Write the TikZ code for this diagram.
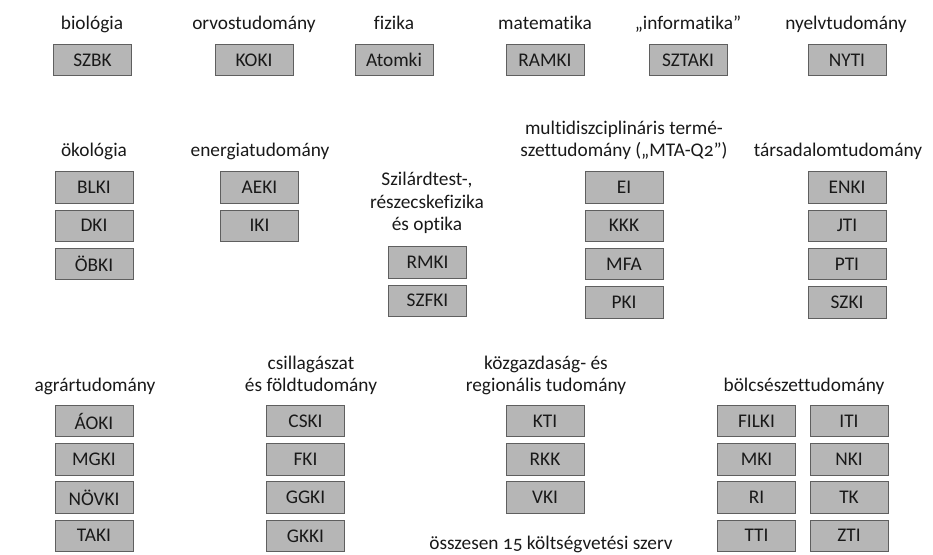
\documentclass[tikz,border=0pt]{standalone}
\usepackage{fontspec}
\setmainfont{Carlito}[Numbers=OldStyle, Ligatures=CommonOff]
\usetikzlibrary{positioning}
\definecolor{boxgray}{RGB}{182,182,182}
\definecolor{edgegray}{RGB}{95,95,95}
\definecolor{txtgray}{RGB}{25,25,25}

\begin{document}
\begin{tikzpicture}[x=0.75pt, y=-0.75pt,
  every node/.style = {font=\fontsize{14.5}{17}\selectfont, text=txtgray},
  inst/.style = {draw=edgegray, fill=boxgray, line width=0.6pt, inner sep=0pt,
                 minimum width=58.5pt, minimum height=23.5pt},
  field/.style = {align=center, anchor=base, inner sep=0pt},
  node distance=4.6pt]
\useasboundingbox (0,0) rectangle (933,555);

% first row
\node[field] (biol) at (92,30) {biológia};
\node[inst] (szbk) at (92.5,60) {SZBK};
\node[field] (orvos) at (254,30) {orvostudomány};
\node[inst] (koki) at (254,60) {KOKI};
\node[field] (fiz) at (394,30) {fizika};
\node[inst] (atomki) at (394,60) {Atomki};
\node[field] (mat) at (545,30) {matematika};
\node[inst] (ramki) at (545,60) {RAMKI};
\node[field] (inf) at (688,30) {„informatika”};
\node[inst] (sztaki) at (688,60) {SZTAKI};
\node[field] (nyelv) at (846,30) {nyelvtudomány};
\node[inst] (nyti) at (847,60) {NYTI};

% second row
\node[field] (okol) at (94,157) {ökológia};
\node[inst] (blki) at (94,187.5) {BLKI};
\node[inst, below=of blki] (dki) {DKI};
\node[inst, below=of dki] (obki) {ÖBKI};

\node[field] (energ) at (260,157) {energiatudomány};
\node[inst] (aeki) at (259.5,187.5) {AEKI};
\node[inst, below=of aeki] (iki) {IKI};

\node[field] (szil) at (427,231) {Szilárdtest-,\\részecskefizika\\és optika};
\node[inst] (rmki) at (427.5,262.5) {RMKI};
\node[inst, below=of rmki] (szfki) {SZFKI};

\node[field] (multi) at (624,157) {multidiszciplináris termé-\\szettudomány („MTA-Q2”)};
\node[inst] (ei) at (624,187.5) {EI};
\node[inst, below=of ei] (kkk) {KKK};
\node[inst, below=of kkk] (mfa) {MFA};
\node[inst, below=of mfa] (pki) {PKI};

\node[field] (tars) at (838,157) {társadalomtudomány};
\node[inst] (enki) at (847,187.5) {ENKI};
\node[inst, below=of enki] (jti) {JTI};
\node[inst, below=of jti] (pti) {PTI};
\node[inst, below=of pti] (szki) {SZKI};

% third row
\node[field] (agrar) at (95,392) {agrártudomány};
\node[inst] (aoki) at (94,421) {ÁOKI};
\node[inst, below=of aoki] (mgki) {MGKI};
\node[inst, below=of mgki] (novki) {NÖVKI};
\node[inst, below=of novki] (taki) {TAKI};

\node[field] (csill) at (311,392) {csillagászat\\és földtudomány};
\node[inst] (cski) at (305.5,421) {CSKI};
\node[inst, below=of cski] (fki) {FKI};
\node[inst, below=of fki] (ggki) {GGKI};
\node[inst, below=of ggki] (gkki) {GKKI};

\node[field] (kozg) at (546,392) {közgazdaság- és\\regionális tudomány};
\node[inst] (kti) at (545,421) {KTI};
\node[inst, below=of kti] (rkk) {RKK};
\node[inst, below=of rkk] (vki) {VKI};

\node[field] (bolcs) at (804,392) {bölcsészettudomány};
\node[inst] (filki) at (756.5,421) {FILKI};
\node[inst, below=of filki] (mki) {MKI};
\node[inst, below=of mki] (ri) {RI};
\node[inst, below=of ri] (tti) {TTI};
\node[inst] (iti) at (849,421) {ITI};
\node[inst, below=of iti] (nki) {NKI};
\node[inst, below=of nki] (tk) {TK};
\node[inst, below=of tk] (zti) {ZTI};

\node[field] (ossz) at (551,550) {összesen 15 költségvetési szerv};
\end{tikzpicture}
\end{document}
